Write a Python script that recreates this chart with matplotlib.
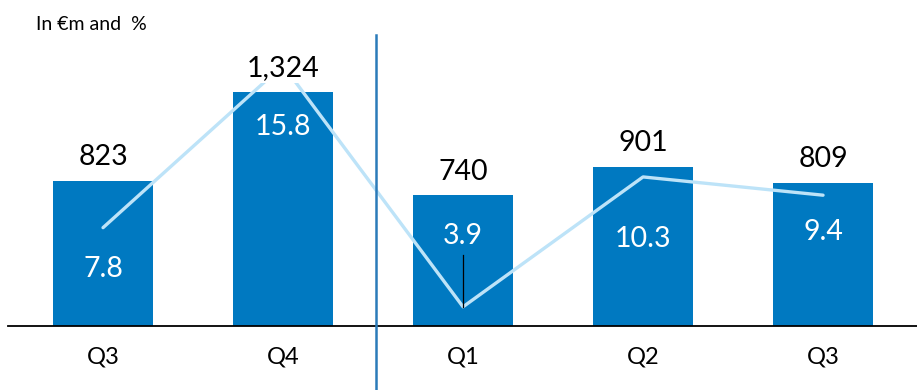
import matplotlib
matplotlib.use("Agg")
import matplotlib.pyplot as plt

plt.rcParams['font.family'] = ['Lato', 'DejaVu Sans']

quarters = ["Q3", "Q4", "Q1", "Q2", "Q3"]
revenue = [823, 1324, 740, 901, 809]
revenue_labels = ["823", "1,324", "740", "901", "809"]
margin_pct = [7.8, 15.8, 3.9, 10.3, 9.4]
margin_labels = ["7.8", "15.8", "3.9", "10.3", "9.4"]
# vertical position of the in-bar percentage labels (in revenue units)
pct_label_pos = [325, 1128, 508, 492, 532]

BAR = '#0079C1'
LINE = '#BDE3F8'

fig = plt.figure(figsize=(9.17, 3.9), dpi=100)
ax = fig.add_axes([0.0087, 0.1641, 0.9913, 0.759])
x = list(range(len(quarters)))

ax.bar(x, revenue, width=0.556, color=BAR, zorder=2)
ax.set_xlim(-0.528, 4.522)
ax.set_ylim(0, 1675)
for s in ['top', 'right', 'left']:
    ax.spines[s].set_visible(False)
ax.spines['bottom'].set_color('black')
ax.spines['bottom'].set_linewidth(1.3)
ax.set_yticks([])
ax.set_xticks(x)
ax.set_xticklabels(quarters, fontsize=17)
ax.tick_params(axis='x', length=0, pad=15)

ax2 = ax.twinx()
ax2.set_ylim(2.955, 17.54)
ax2.axis('off')
ax2.plot(x, margin_pct, color=LINE, lw=2.4, zorder=3, solid_capstyle='round')
# leader line at Q1
ax2.plot([2, 2], [6.45, 3.9], color='black', lw=0.9, zorder=4)

# separator between years
ax2.plot([1.517, 1.517], [-0.216, 0.983], transform=ax.get_xaxis_transform(),
         color='#2B7BB9', lw=1.8, clip_on=False, zorder=5)

for xi, v, lab in zip(x, revenue, revenue_labels):
    ax2.text(xi, v + 60, lab, ha='center', va='bottom', fontsize=20.5, color='black', zorder=10,
             transform=ax.transData,
             bbox=dict(facecolor='white', edgecolor='none', pad=1.0))

for xi, yp, lab in zip(x, pct_label_pos, margin_labels):
    ax2.text(xi, yp, lab, ha='center', va='center', fontsize=20.5, color='white', zorder=10,
             transform=ax.transData)

fig.text(0.039, 0.938, "In €m and  %", fontsize=14, ha='left', va='center')

fig.savefig("out.png", dpi=100)
